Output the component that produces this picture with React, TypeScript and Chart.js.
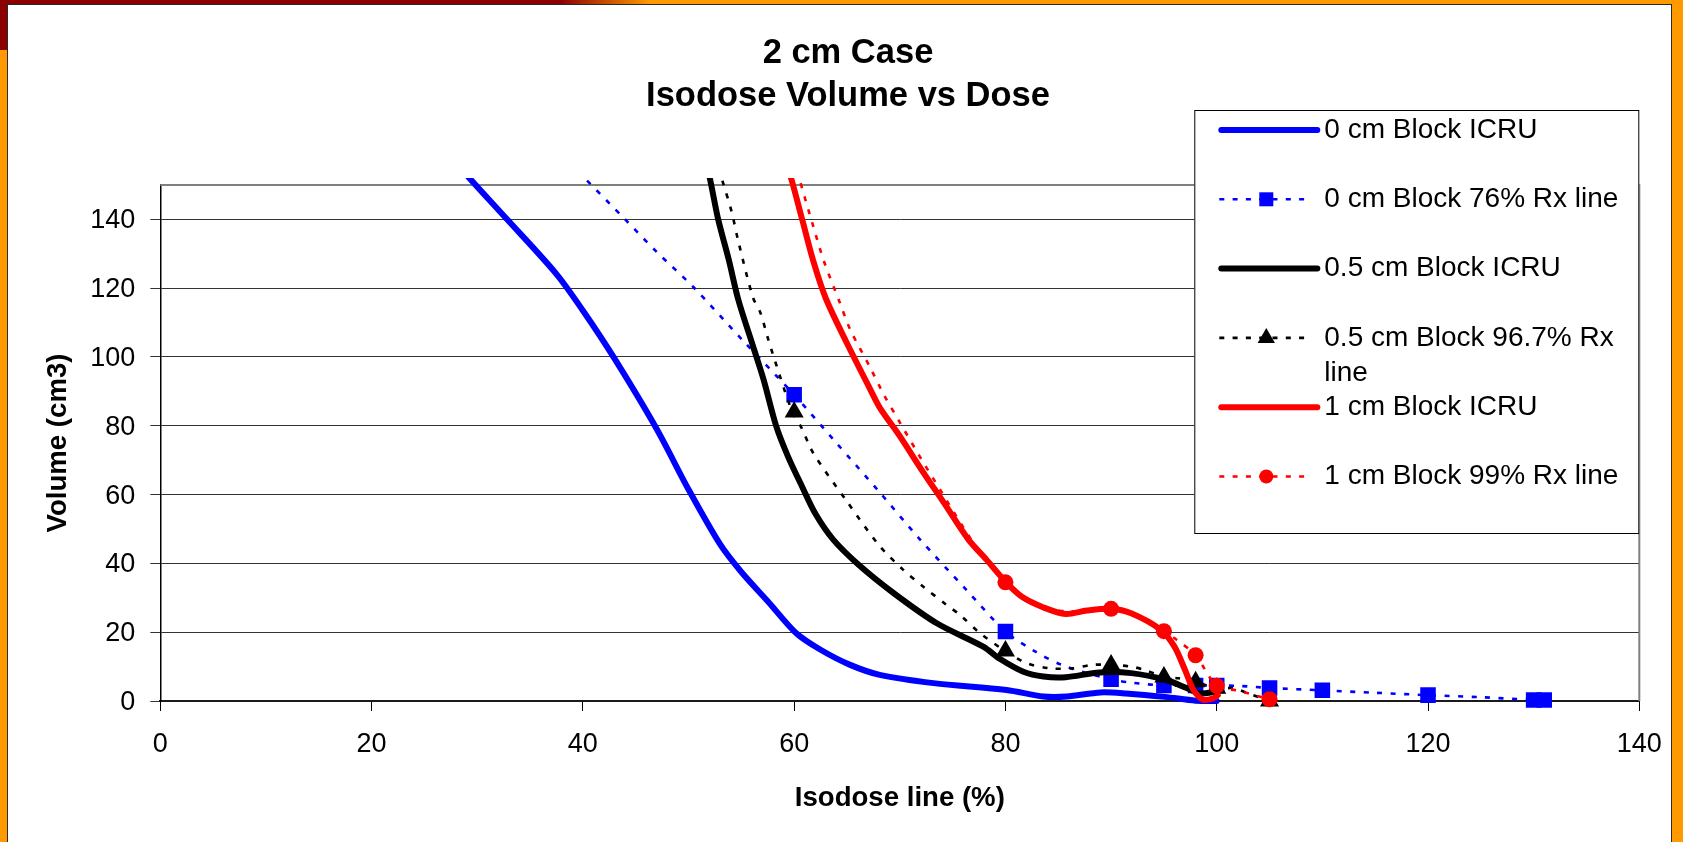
import React, { useEffect, useRef } from 'react';
import { Chart, registerables } from 'chart.js';

Chart.register(...registerables);

const FONT = "'Liberation Sans', Arial, Helvetica, sans-serif";

const chartTitle = ['2 cm Case', 'Isodose Volume vs Dose'];
const xAxisTitle = 'Isodose line (%)';
const yAxisTitle = 'Volume (cm3)';

const seriesLabels = [
  '0 cm Block ICRU',
  '0 cm Block 76% Rx line',
  '0.5 cm Block ICRU',
  '0.5 cm Block 96.7% Rx line',
  '1 cm Block ICRU',
  '1 cm Block 99% Rx line',
];

const xTickValues = [0, 20, 40, 60, 80, 100, 120, 140];
const yTickValues = [0, 20, 40, 60, 80, 100, 120, 140];
const xAxisMax = 140;
const yAxisMax = 150;

// 0 cm Block ICRU
const block0IcruX = [28.0, 29.2, 32.8, 37.5, 40.0, 43.0, 47.0, 50.0, 53.0, 55.0, 57.5, 60.2, 62.5, 65.3, 68.1, 73.2, 80.1, 83.6, 85.8, 89.0, 91.4, 95.1, 98.0, 100.0];
const block0IcruY = [156.5, 152.2, 140.1, 124.1, 113.5, 99.5, 79.0, 61.5, 45.5, 37.5, 29.0, 19.7, 14.9, 10.5, 7.6, 5.2, 3.2, 1.3, 1.3, 2.5, 2.2, 1.2, 0.1, 0.0];

// 0 cm Block 76% Rx line
const block0RxX = [39.5, 40.1, 44.0, 47.0, 50.5, 55.2, 60.0, 64.0, 68.0, 71.9, 76.3, 80.0, 82.8, 85.3, 87.5, 90.0, 92.0, 95.0, 98.0, 100.0, 102.0, 105.0, 110.0, 115.0, 120.0, 125.0, 130.0, 131.0];
const block0RxY = [154.0, 152.2, 140.0, 130.5, 120.2, 104.6, 89.0, 75.0, 61.0, 47.0, 32.3, 20.2, 14.4, 10.5, 8.3, 6.3, 5.3, 4.5, 4.5, 4.5, 4.4, 3.8, 3.1, 2.4, 1.7, 1.1, 0.3, 0.3];
const block0RxMarkX = [60, 80, 90, 95, 98, 100, 105, 110, 120, 130, 131];
const block0RxMarkY = [89.0, 20.2, 6.3, 4.5, 4.5, 4.5, 3.8, 3.1, 1.7, 0.3, 0.3];

// 0.5 cm Block ICRU
const block05IcruX = [51.5, 52.0, 52.8, 53.8, 54.7, 56.1, 57.1, 58.3, 59.4, 60.8, 62.0, 63.7, 66.1, 69.4, 73.5, 77.9, 79.5, 81.7, 83.6, 85.7, 88.9, 91.9, 95.2, 97.2, 98.4, 99.9];
const block05IcruY = [158.0, 152.2, 140.1, 128.4, 116.8, 103.2, 93.5, 79.9, 71.2, 62.0, 54.5, 46.9, 39.6, 31.4, 22.6, 15.8, 12.2, 8.5, 7.1, 6.9, 8.3, 8.1, 6.1, 3.7, 2.2, 2.7];

// 0.5 cm Block 96.7% Rx line
const block05RxX = [52.8, 53.3, 54.1, 54.7, 56.1, 56.8, 57.55, 58.7, 59.8, 60.7, 61.8, 65.0, 68.0, 70.3, 72.2, 74.4, 75.7, 77.6, 80.0, 82.0, 84.2, 86.4, 88.2, 90.0, 91.9, 93.2, 95.0, 96.4, 98.0, 100.0, 101.6, 103.0, 105.0];
const block05RxY = [155.0, 150.3, 142.0, 133.8, 117.3, 112.9, 105.1, 94.0, 84.3, 79.4, 72.1, 58.0, 45.4, 38.2, 33.3, 28.0, 25.0, 19.7, 14.5, 11.0, 9.5, 9.5, 10.5, 10.5, 10.0, 9.0, 7.0, 6.6, 5.6, 3.7, 3.7, 2.2, 0.0];
const block05RxMarkX = [60, 80, 90, 95, 98, 100, 105];
const block05RxMarkY = [84.0, 14.5, 10.5, 7.0, 5.6, 3.7, 0.0];

// 1 cm Block ICRU
const block1IcruX = [59.3, 59.8, 60.8, 61.8, 63.0, 65.0, 67.2, 68.1, 70.0, 72.0, 74.2, 76.5, 78.2, 80.0, 81.6, 83.6, 85.7, 87.7, 90.0, 91.9, 94.7, 96.0, 97.0, 97.8, 98.7, 99.7, 100.1];
const block1IcruY = [156.0, 151.0, 139.5, 128.0, 117.0, 104.0, 90.6, 85.3, 77.0, 67.5, 57.5, 46.9, 41.1, 34.7, 30.2, 27.2, 25.3, 26.3, 26.8, 25.5, 20.7, 15.8, 9.0, 3.2, 0.4, 0.8, 1.7];

// 1 cm Block 99% Rx line
const block1RxX = [59.9, 60.5, 61.7, 62.8, 64.3, 65.3, 67.2, 68.5, 70.0, 72.0, 74.0, 76.0, 78.0, 80.0, 82.0, 84.0, 86.0, 88.0, 90.0, 92.0, 95.0, 96.2, 98.0, 100.0, 102.0, 105.0];
const block1RxY = [158.0, 151.7, 139.1, 128.0, 116.0, 108.0, 96.9, 89.0, 81.0, 70.5, 60.5, 50.5, 41.5, 34.5, 29.5, 27.0, 26.0, 26.5, 26.8, 25.0, 20.3, 17.8, 13.3, 4.4, 3.0, 0.5];
const block1RxMarkX = [80, 90, 95, 98, 100, 105];
const block1RxMarkY = [34.5, 26.8, 20.3, 13.3, 4.4, 0.5];

const BLUE = '#0000FF';
const BLACK = '#000000';
const RED = '#FF0000';
const DASH = [5, 8.5];
const SOLID_W = 6;
const DOT_W = 2.6;

const toPoints = (xs: number[], ys: number[]) => xs.map((x, i) => ({ x, y: ys[i] }));

const markerSize: Record<string, number> = { rect: 11, triangle: 11, circle: 8 };

const lineClip = { left: 0, top: 7, right: 0, bottom: 4 };

function solidSet(label: string, color: string, xs: number[], ys: number[], order: number) {
  return {
    label, data: toPoints(xs, ys), showLine: true, fill: false,
    borderColor: color, backgroundColor: color, borderWidth: SOLID_W,
    borderCapStyle: 'round', borderJoinStyle: 'round',
    pointRadius: 0, pointHoverRadius: 0, tension: 0.3, order,
    clip: lineClip,
  };
}
function dottedSet(label: string, color: string, xs: number[], ys: number[], order: number) {
  return {
    label, data: toPoints(xs, ys), showLine: true, fill: false,
    borderColor: color, backgroundColor: color, borderWidth: DOT_W, borderDash: DASH,
    borderCapStyle: 'butt', borderJoinStyle: 'round',
    pointRadius: 0, pointHoverRadius: 0, tension: 0.3, order,
    clip: lineClip,
  };
}
function markerSet(label: string, color: string, style: string, xs: number[], ys: number[], order: number) {
  return {
    label, data: toPoints(xs, ys), showLine: false,
    pointStyle: style, pointRadius: markerSize[style], pointHoverRadius: markerSize[style],
    pointBackgroundColor: color, pointBorderColor: color, pointBorderWidth: 0, order,
    clip: { left: 20, top: 0, right: 20, bottom: 20 },
  };
}

const legendSpec = [
  { label: seriesLabels[0], color: BLUE, dashed: false, marker: '' },
  { label: seriesLabels[1], color: BLUE, dashed: true, marker: 'rect' },
  { label: seriesLabels[2], color: BLACK, dashed: false, marker: '' },
  { label: seriesLabels[3], color: BLACK, dashed: true, marker: 'triangle' },
  { label: seriesLabels[4], color: RED, dashed: false, marker: '' },
  { label: seriesLabels[5], color: RED, dashed: true, marker: 'circle' },
];

function drawMarker(ctx: CanvasRenderingContext2D, style: string, x: number, y: number, color: string) {
  ctx.save();
  ctx.setLineDash([]);
  ctx.fillStyle = color;
  ctx.beginPath();
  if (style === 'rect') {
    ctx.rect(x - 7, y - 7, 14, 14);
  } else if (style === 'triangle') {
    const r = 10;
    ctx.moveTo(x, y - r);
    ctx.lineTo(x - (r * Math.sqrt(3)) / 2, y + r / 2);
    ctx.lineTo(x + (r * Math.sqrt(3)) / 2, y + r / 2);
    ctx.closePath();
  } else {
    ctx.arc(x, y, 7, 0, Math.PI * 2);
  }
  ctx.fill();
  ctx.restore();
}

function wrapText(ctx: CanvasRenderingContext2D, text: string, maxWidth: number) {
  const words = text.split(' ');
  const lines: string[] = [];
  let cur = '';
  for (const w of words) {
    const test = cur ? cur + ' ' + w : w;
    if (cur && ctx.measureText(test).width > maxWidth) {
      lines.push(cur);
      cur = w;
    } else {
      cur = test;
    }
  }
  if (cur) lines.push(cur);
  return lines;
}

const plotFrame = {
  id: 'plotFrame',
  beforeDatasetsDraw(chart: any) {
    const { ctx, chartArea: a } = chart;
    ctx.save();
    ctx.strokeStyle = '#808080';
    ctx.lineWidth = 2;
    ctx.beginPath();
    ctx.moveTo(a.left, a.top);
    ctx.lineTo(a.right, a.top);
    ctx.lineTo(a.right, a.bottom);
    ctx.stroke();
    ctx.restore();
  },
};

const boxLegend = {
  id: 'boxLegend',
  afterDraw(chart: any) {
    const { ctx, chartArea } = chart;
    const right = chartArea.right;
    const left = right - 445;
    const top = 110;
    const bottom = 534;
    ctx.save();
    ctx.fillStyle = '#FFFFFF';
    ctx.fillRect(left, top, right - left, bottom - top);
    ctx.strokeStyle = '#000000';
    ctx.lineWidth = 1;
    ctx.strokeRect(left + 0.5, top + 0.5, right - left - 1, bottom - top - 1);
    ctx.font = `28px ${FONT}`;
    ctx.textBaseline = 'middle';
    ctx.textAlign = 'left';
    legendSpec.forEach((item, i) => {
      const y = top + 20 + i * 69.3;
      ctx.strokeStyle = item.color;
      ctx.beginPath();
      if (item.dashed) {
        ctx.setLineDash([5, 8.3]);
        ctx.lineWidth = DOT_W;
        ctx.lineCap = 'butt';
        ctx.moveTo(left + 25, y);
        ctx.lineTo(left + 116, y);
      } else {
        ctx.setLineDash([]);
        ctx.lineWidth = SOLID_W;
        ctx.lineCap = 'round';
        ctx.moveTo(left + 27, y);
        ctx.lineTo(left + 123, y);
      }
      ctx.stroke();
      ctx.setLineDash([]);
      if (item.marker) drawMarker(ctx, item.marker, left + 72, y, item.color);
      const tx = left + 130;
      ctx.fillStyle = '#000000';
      const lines = wrapText(ctx, item.label, right - 8 - tx);
      lines.forEach((ln, j) => ctx.fillText(ln, tx, y + j * 35));
    });
    ctx.restore();
  },
};

export default function App() {
  const canvasRef = useRef<HTMLCanvasElement | null>(null);

  useEffect(() => {
    if (!canvasRef.current) return;
    Chart.defaults.font.family = FONT;
    Chart.defaults.color = '#000000';

    const datasets: any[] = [
      solidSet(seriesLabels[0], BLUE, block0IcruX, block0IcruY, 12),
      dottedSet(seriesLabels[1], BLUE, block0RxX, block0RxY, 11),
      markerSet(seriesLabels[1] + ' markers', BLUE, 'rect', block0RxMarkX, block0RxMarkY, 10),
      solidSet(seriesLabels[2], BLACK, block05IcruX, block05IcruY, 9),
      dottedSet(seriesLabels[3], BLACK, block05RxX, block05RxY, 8),
      markerSet(seriesLabels[3] + ' markers', BLACK, 'triangle', block05RxMarkX, block05RxMarkY, 7),
      solidSet(seriesLabels[4], RED, block1IcruX, block1IcruY, 6),
      dottedSet(seriesLabels[5], RED, block1RxX, block1RxY, 5),
      markerSet(seriesLabels[5] + ' markers', RED, 'circle', block1RxMarkX, block1RxMarkY, 4),
    ];

    const chart = new Chart(canvasRef.current, {
      type: 'scatter',
      data: { datasets },
      options: {
        responsive: false,
        animation: false,
        events: [],
        layout: { padding: 0 },
        plugins: {
          legend: { display: false },
          tooltip: { enabled: false },
          title: {
            display: true,
            text: chartTitle,
            color: '#000000',
            font: { family: FONT, size: 34.5, weight: 'bold', lineHeight: 1.246 },
            padding: { top: 31.7, bottom: 67.3 },
          },
        },
        scales: {
          x: {
            type: 'linear',
            position: 'bottom',
            min: 0,
            max: xAxisMax,
            afterBuildTicks: (axis: any) => {
              axis.ticks = xTickValues.map((value) => ({ value }));
            },
            afterFit: (axis: any) => {
              axis.height = 141;
              axis.paddingRight = 43.7;
            },
            ticks: {
              color: '#000000',
              font: { family: FONT, size: 27, lineHeight: 1.2 },
              padding: 17.8,
              maxRotation: 0,
              autoSkip: false,
            },
            grid: {
              drawOnChartArea: false,
              drawTicks: true,
              tickLength: 10,
              color: '#000000',
              lineWidth: 1,
            },
            border: { display: true, color: '#1a1a1a', width: 2 },
            title: {
              display: true,
              text: xAxisTitle,
              color: '#000000',
              font: { family: FONT, size: 27.6, weight: 'bold', lineHeight: 1.2 },
              padding: { top: 0, bottom: 27 },
            },
          },
          y: {
            type: 'linear',
            position: 'left',
            min: 0,
            max: yAxisMax,
            afterBuildTicks: (axis: any) => {
              axis.ticks = yTickValues.map((value) => ({ value }));
            },
            afterFit: (axis: any) => {
              axis.width = 147.3;
            },
            ticks: {
              color: '#000000',
              font: { family: FONT, size: 27, lineHeight: 1.2 },
              padding: 15,
              labelOffset: 1.5,
              autoSkip: false,
            },
            grid: {
              drawOnChartArea: true,
              drawTicks: true,
              tickLength: 10,
              color: '#333333',
              lineWidth: 1,
            },
            border: { display: true, color: '#000000', width: 1.5 },
            title: {
              display: true,
              text: yAxisTitle,
              color: '#000000',
              font: { family: FONT, size: 27.6, weight: 'bold', lineHeight: 1.2 },
              padding: { top: 28.7, bottom: 0 },
            },
          },
        },
      } as any,
      plugins: [plotFrame, boxLegend],
    });

    return () => chart.destroy();
  }, []);

  return (
    <div
      style={{
        position: 'fixed', left: 0, top: 0, width: 1683, height: 842,
        background: '#FF9900', overflow: 'hidden',
      }}
    >
      <div
        style={{
          position: 'absolute', left: 0, top: 0, width: 720, height: 5,
          background: 'linear-gradient(to right, #8B0000 0px, #8B0000 560px, #FF9900 650px)',
        }}
      />
      <div style={{ position: 'absolute', left: 0, top: 0, width: 8, height: 50, background: '#8B0000' }} />
      <div
        style={{
          position: 'absolute', left: 7, top: 4, width: 1683 - 7 - 11, height: 842,
          background: '#FFFFFF', border: '1px solid #2b2b2b', borderBottom: 'none', boxSizing: 'border-box',
        }}
      />
      <canvas
        ref={canvasRef}
        width={1670}
        height={842}
        style={{ position: 'absolute', left: 13, top: 0, width: 1670, height: 842 }}
      />
    </div>
  );
}
